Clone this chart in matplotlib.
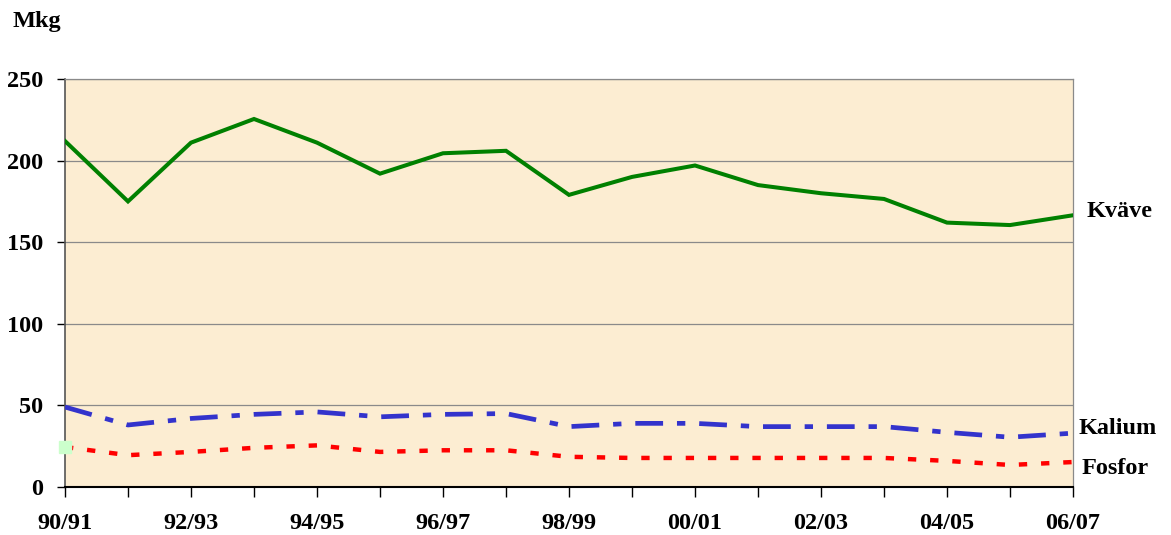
import matplotlib
matplotlib.use("Agg")
import matplotlib.pyplot as plt

plt.rcParams['font.family'] = ['Liberation Serif', 'DejaVu Serif']
plt.rcParams['font.weight'] = 'bold'
plt.rcParams['lines.scale_dashes'] = False

years = ["90/91", "91/92", "92/93", "93/94", "94/95", "95/96", "96/97", "97/98", "98/99",
         "99/00", "00/01", "01/02", "02/03", "03/04", "04/05", "05/06", "06/07"]
kvave = [212, 175, 211, 225.5, 211, 192, 204.5, 206, 179, 190, 197, 185, 180, 176.5, 162, 160.5, 166.5]
kalium = [49, 38, 42, 44.5, 46, 43, 44.5, 45, 37, 39, 39, 37, 37, 37, 33.5, 30.5, 33]
fosfor = [24.5, 19.5, 21.5, 24, 25.5, 21.5, 22.5, 22.5, 18.5, 17.8, 17.8, 17.8, 17.8, 17.8, 16, 13.5, 15.3]
yticks = [0, 50, 100, 150, 200, 250]

FS = 17.5

fig = plt.figure(figsize=(11.71, 5.35), dpi=100)
ax = fig.add_axes([65/1171, 48/535, 1008/1171, 408/535])
ax.set_facecolor('#fcedd2')

x = list(range(len(years)))
ax.plot(x, kvave, color='#008000', lw=2.9, solid_joinstyle='miter', zorder=3)
ax.plot(x, kalium, color='#3333cc', lw=3.4, dashes=(20, 10, 6, 10), zorder=3)
ax.plot(x, fosfor, color='#ff0000', lw=3.2, dashes=(6, 10), zorder=3)
ax.plot([x[0]], [fosfor[0]], marker='s', ms=9, color='#ccffcc', mec='#ccffcc', zorder=4, clip_on=False)

ax.set_xlim(0, len(years) - 1)
ax.set_ylim(0, 250)
ax.set_yticks(yticks)
ax.set_yticklabels([str(v) for v in yticks], fontsize=FS, fontweight='bold')
ax.set_xticks(x)
ax.set_xticklabels([y if i % 2 == 0 else '' for i, y in enumerate(years)], fontsize=FS, fontweight='bold')
ax.tick_params(axis='x', direction='out', length=7, width=1, pad=12, colors='black')
ax.tick_params(axis='y', direction='out', length=6, width=1, pad=10, colors='black')
for t in ax.get_yticklines():
    t.set_color('#555555')

for v in yticks[1:]:
    ax.axhline(v, color='#8a8a8a', lw=0.9, zorder=1)

ax.spines['left'].set_color('#555555')
ax.spines['left'].set_linewidth(1.2)
ax.spines['bottom'].set_color('black')
ax.spines['bottom'].set_linewidth(1.5)
ax.spines['top'].set_color('#8a8a8a')
ax.spines['top'].set_linewidth(0.9)
ax.spines['right'].set_color('#8a8a8a')
ax.spines['right'].set_linewidth(0.9)

fig.text(13/1171, 1 - 21/535, 'Mkg', fontsize=FS, fontweight='bold', va='center', ha='left')
fig.text(1087/1171, 1 - 211/535, 'Kväve', fontsize=FS, fontweight='bold', va='center', ha='left')
fig.text(1079/1171, 1 - 428/535, 'Kalium', fontsize=FS, fontweight='bold', va='center', ha='left')
fig.text(1082/1171, 1 - 469/535, 'Fosfor', fontsize=FS, fontweight='bold', va='center', ha='left')

fig.savefig('out.png', dpi=100)
